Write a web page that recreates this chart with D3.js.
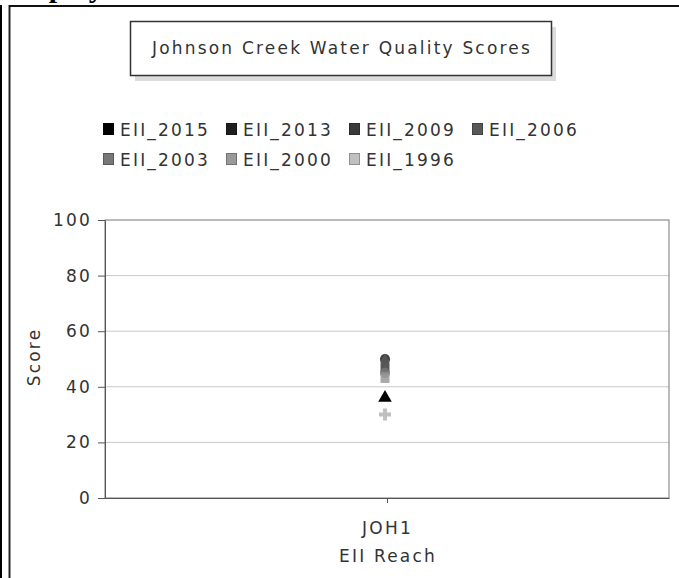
<!DOCTYPE html>
<html>
<head>
<meta charset="utf-8">
<style>
  body { margin: 0; background: #fff; }
  text {
    font-family: "DejaVu Sans", sans-serif;
    font-size: 17px;
    letter-spacing: 2.2px;
    fill: #333;
  }
  .axis path, .axis line { stroke: #555; }
  .grid line { stroke: #c8c8c8; }
</style>
</head>
<body>
<svg width="679" height="578"></svg>
<script src="https://d3js.org/d3.v7.min.js"></script>
<script>

var chartTitle = "Johnson Creek Water Quality Scores";
var categories = ["JOH1"];
var seriesNames = ["EII_2015", "EII_2013", "EII_2009", "EII_2006", "EII_2003", "EII_2000", "EII_1996"];
var seriesColors = ["#000000", "#1e1e1e", "#3a3a3a", "#585858", "#777777", "#999999", "#c0c0c0"];
var seriesShapes = ["triangle", "circle", "square", "diamond", "circle", "square", "cross"];
var seriesValues = [36, 50, 47, 49, 45, 43, 30];
var yTicks = [0, 20, 40, 60, 80, 100];

var svg = d3.select("svg");

var plotLeft = 105, plotRight = 669, plotTop = 220, plotBottom = 498;

// page frame
svg.append("text")
    .attr("x", 7).attr("y", -3.5)
    .style("font-family", "'Liberation Serif', serif")
    .style("font-weight", "bold")
    .style("font-size", "30px")
    .style("letter-spacing", "0px")
    .style("fill", "#000")
    .text("Display");
svg.append("line").attr("x1", 1).attr("x2", 1).attr("y1", 5).attr("y2", 578)
    .attr("stroke", "#000").attr("stroke-width", 2);
svg.append("line").attr("x1", 9.5).attr("x2", 9.5).attr("y1", 5).attr("y2", 578)
    .attr("stroke", "#222").attr("stroke-width", 2);
svg.append("line").attr("x1", 9).attr("x2", 679).attr("y1", 6).attr("y2", 6)
    .attr("stroke", "#111").attr("stroke-width", 2);

// title box with shadow
svg.append("rect").attr("x", 135).attr("y", 27).attr("width", 421).attr("height", 54)
    .attr("fill", "#dcdcdc");
svg.append("rect").attr("x", 130.5).attr("y", 21.5).attr("width", 421).attr("height", 54)
    .attr("fill", "#fff").attr("stroke", "#333").attr("stroke-width", 1.5);
svg.append("text")
    .attr("x", 342).attr("y", 54)
    .attr("text-anchor", "middle")
    .text(chartTitle);

// legend
var legend = svg.append("g").selectAll("g")
    .data(seriesNames)
    .enter().append("g")
      .attr("transform", function(d, i) {
        return "translate(" + (103 + (i % 4) * 123) + "," + (123 + Math.floor(i / 4) * 30) + ")";
      });
legend.append("rect")
    .attr("x", 0.5).attr("y", 0.5)
    .attr("width", 10).attr("height", 11)
    .attr("fill", function(d, i) { return seriesColors[i]; })
    .attr("stroke", function(d, i) { return d3.color(seriesColors[i]).darker(0.8); });
legend.append("text")
    .attr("x", 17).attr("y", 12.5)
    .text(function(d) { return d; });

// scales
var x = d3.scalePoint().domain(categories).range([plotLeft, plotRight]).padding(0.5);
var y = d3.scaleLinear().domain([0, 100]).range([plotBottom, plotTop]);

// grid
svg.append("g").attr("class", "grid")
  .selectAll("line")
  .data(yTicks.filter(function(d) { return d > 0 && d < 100; }))
  .enter().append("line")
    .attr("x1", plotLeft).attr("x2", plotRight)
    .attr("y1", function(d) { return y(d); })
    .attr("y2", function(d) { return y(d); });

// plot outline
svg.append("rect")
    .attr("x", plotLeft).attr("y", plotTop)
    .attr("width", plotRight - plotLeft).attr("height", plotBottom - plotTop)
    .attr("fill", "none").attr("stroke", "#777");

var yAxis = svg.append("g").attr("class", "axis")
    .attr("transform", "translate(" + plotLeft + ",0)")
    .call(d3.axisLeft(y).tickValues(yTicks).tickSize(7).tickPadding(6).tickSizeOuter(0));
yAxis.attr("font-family", null).attr("font-size", null);
yAxis.selectAll("text").attr("fill", "#444");

var xAxis = svg.append("g").attr("class", "axis")
    .attr("transform", "translate(0," + plotBottom + ")")
    .call(d3.axisBottom(x).tickSize(5).tickPadding(19).tickSizeOuter(0));
xAxis.attr("font-family", null).attr("font-size", null);
xAxis.selectAll("text").attr("fill", "#444");

svg.append("text")
    .attr("x", 388).attr("y", 562)
    .attr("text-anchor", "middle")
    .attr("fill", "#444")
    .text("EII Reach");

svg.append("text")
    .attr("transform", "translate(40,357) rotate(-90)")
    .attr("text-anchor", "middle")
    .attr("fill", "#444")
    .text("Score");

// points
var symbolType = {
  triangle: d3.symbolTriangle,
  circle: d3.symbolCircle,
  square: d3.symbolSquare,
  diamond: d3.symbolDiamond,
  cross: d3.symbolCross
};
svg.append("g").selectAll("path")
    .data(seriesValues)
    .enter().append("path")
      .attr("d", function(d, i) { return d3.symbol().type(symbolType[seriesShapes[i]]).size(80)(); })
      .attr("transform", function(d, i) { return "translate(" + (x(categories[0]) - 2) + "," + y(d) + ")"; })
      .attr("fill", function(d, i) { return seriesColors[i]; })
      .attr("opacity", function(d, i) { return i == 0 || i == 6 ? 1 : 0.85; });

</script>
</body>
</html>
